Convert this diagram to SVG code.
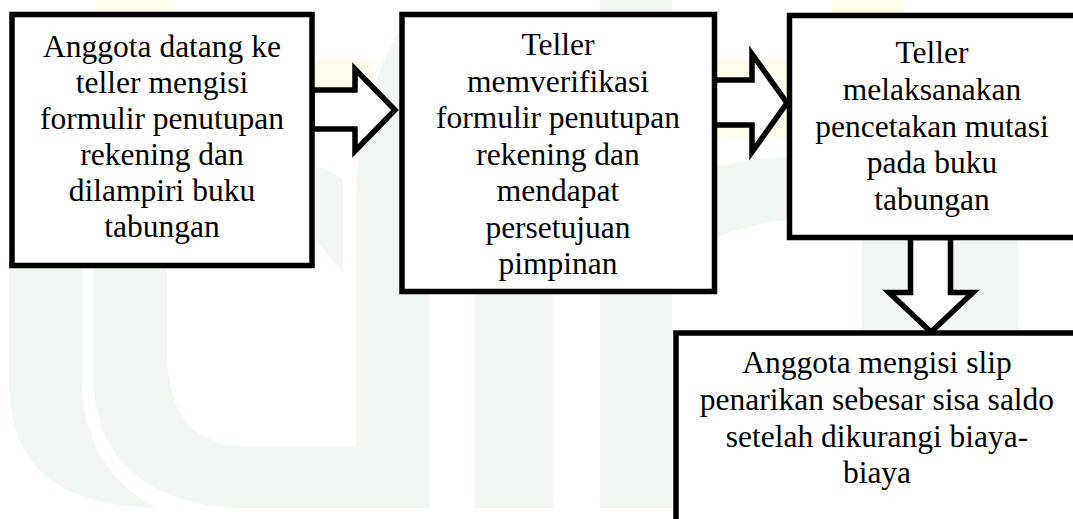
<svg xmlns="http://www.w3.org/2000/svg" width="1073" height="519" viewBox="0 0 1073 519">
<style>
.wm-g{fill:#eff7f0;stroke:none}
.wm-y{fill:#fffbeb;stroke:none}
.box{fill:#ffffff;stroke:#000000;stroke-width:5.5}
.arrow{fill:#ffffff;stroke:#000000;stroke-width:5.5;stroke-linejoin:miter;stroke-miterlimit:10}
.t{font-family:"Liberation Serif","Times New Roman",serif;font-size:31.5px;fill:#000000;text-anchor:middle}
</style>
<rect x="0" y="0" width="1073" height="519" fill="#ffffff"/>
<g id="watermark">
  <rect class="wm-y" x="96" y="0" width="75" height="12"/>
  <rect class="wm-y" x="832" y="0" width="72" height="13"/>
  <rect class="wm-y" x="315" y="60" width="57" height="70"/>
  <rect class="wm-y" x="716" y="60" width="72" height="78"/>
  <path class="wm-g" d="M9,250 L82,250 L82,380 C82,440 110,485 158,508 C60,505 9,470 9,380 Z"/>
  <path class="wm-g" d="M94,250 L167,250 L167,350 C167,410 190,447 250,447 L356,447 L356,200 C358,130 375,70 400,30 L430,15 L430,508 L240,508 C150,505 94,460 94,380 Z"/>
  <path class="wm-g" d="M316,167 Q332,170 343,180 L343,273 L316,240 Z"/>
  <rect class="wm-g" x="475" y="100" width="78" height="408"/>
  <rect class="wm-g" x="600" y="0" width="72" height="508"/>
  <path class="wm-g" d="M714,168 C740,160 765,158 788,158 L788,220 C765,222 740,228 714,238 Z"/>
  <rect class="wm-g" x="862" y="150" width="156" height="358"/>
</g>
<g id="connectors">
  <polygon class="arrow" points="312,90 355,90 355,69 395,110 355,151 355,129 312,129"/>
  <polygon class="arrow" points="714,80 752,80 752,54 787,103 752,152 752,125 714,125"/>
  <polygon class="arrow" points="910.5,237.5 910.5,292.5 889,292.5 931,332 973,292.5 950.5,292.5 950.5,237.5"/>
</g>
<g id="node1">
  <rect class="box" x="12" y="14.5" width="300" height="251"/>
  <text class="t" x="162" y="57">Anggota datang ke</text>
  <text class="t" x="162" y="93">teller mengisi</text>
  <text class="t" x="162" y="129">formulir penutupan</text>
  <text class="t" x="162" y="165">rekening dan</text>
  <text class="t" x="162" y="201">dilampiri buku</text>
  <text class="t" x="162" y="237">tabungan</text>
</g>
<g id="node2">
  <rect class="box" x="402" y="14.5" width="312.5" height="277"/>
  <text class="t" x="558" y="55">Teller</text>
  <text class="t" x="558" y="91.5">memverifikasi</text>
  <text class="t" x="558" y="128">formulir penutupan</text>
  <text class="t" x="558" y="164.5">rekening dan</text>
  <text class="t" x="558" y="201">mendapat</text>
  <text class="t" x="558" y="237.5">persetujuan</text>
  <text class="t" x="558" y="274">pimpinan</text>
</g>
<g id="node3">
  <rect class="box" x="789.5" y="15.5" width="290" height="222"/>
  <text class="t" x="932" y="63">Teller</text>
  <text class="t" x="932" y="100">melaksanakan</text>
  <text class="t" x="932" y="137">pencetakan mutasi</text>
  <text class="t" x="932" y="173">pada buku</text>
  <text class="t" x="932" y="210">tabungan</text>
</g>
<g id="node4">
  <rect class="box" x="676" y="333" width="410" height="200"/>
  <text class="t" x="877" y="373">Anggota mengisi slip</text>
  <text class="t" x="877" y="410">penarikan sebesar sisa saldo</text>
  <text class="t" x="877" y="447">setelah dikurangi biaya-</text>
  <text class="t" x="877" y="483">biaya</text>
</g>
</svg>
